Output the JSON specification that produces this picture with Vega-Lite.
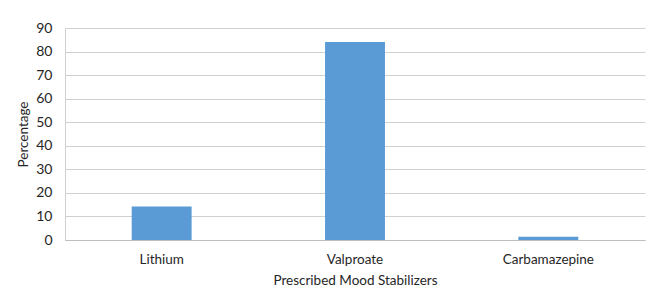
{
  "$schema": "https://vega.github.io/schema/vega-lite/v6.json",
  "width": 580,
  "height": 212,
  "autosize": {"type": "none"},
  "padding": {"left": 65, "top": 28, "right": 6, "bottom": 51},
  "background": "white",
  "data": {"values": [
    {"drug": "Lithium", "pct": 14.2},
    {"drug": "Valproate", "pct": 84.1},
    {"drug": "Carbamazepine", "pct": 1.4}
  ]},
  "mark": {"type": "bar", "color": "#5b9bd5"},
  "encoding": {
    "x": {
      "field": "drug", "type": "nominal", "sort": null,
      "scale": {"paddingInner": 0.69, "paddingOuter": 0.345},
      "axis": {
        "title": "Prescribed Mood Stabilizers", "labelAngle": 0,
        "ticks": false, "domainColor": "#bfbfbf", "labelPadding": 12,
        "titlePadding": 8, "labelFont": "Lato", "titleFont": "Lato",
        "labelFontSize": 13.5, "titleFontSize": 13.5, "titleFontWeight": "normal",
        "labelColor": "#262626", "titleColor": "#262626"
      }
    },
    "y": {
      "field": "pct", "type": "quantitative",
      "scale": {"domain": [0, 90], "nice": false},
      "axis": {
        "title": "Percentage", "values": [0,10,20,30,40,50,60,70,80,90],
        "ticks": false, "domainColor": "#d0d0d0", "gridColor": "#d0d0d0",
        "labelPadding": 13, "titlePadding": 5, "labelFont": "Lato", "titleFont": "Lato",
        "labelFontSize": 14, "titleFontSize": 13.5, "titleFontWeight": "normal",
        "labelColor": "#262626", "titleColor": "#262626"
      }
    }
  },
  "config": {"view": {"stroke": null}}
}
